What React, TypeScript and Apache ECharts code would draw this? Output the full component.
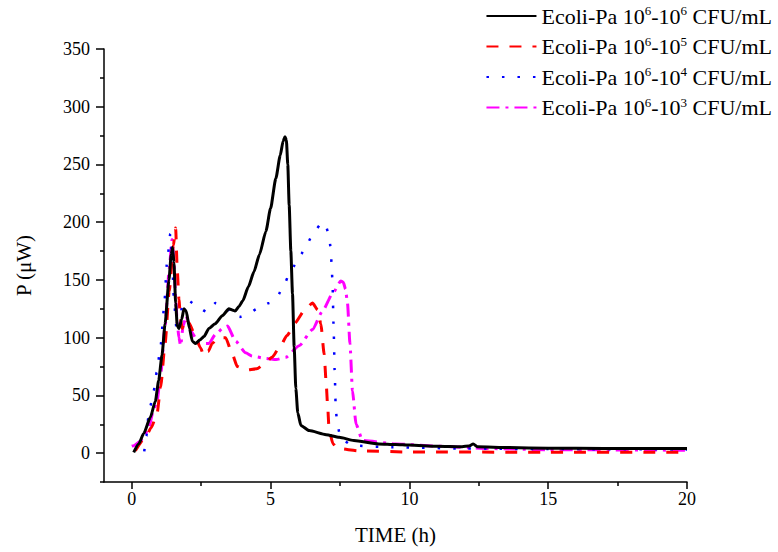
import React, { useEffect, useRef } from "react";
import * as echarts from "echarts";

const xMajorTicks = [0, 5, 10, 15, 20];
const xMinorTicks = [2.5, 7.5, 12.5, 17.5];
const yMajorTicks = [0, 50, 100, 150, 200, 250, 300, 350];
const yMinorTicks = [-25, 25, 75, 125, 175, 225, 275, 325];

const seriesNames = [
  "Ecoli-Pa 10^6-10^6 CFU/mL",
  "Ecoli-Pa 10^6-10^5 CFU/mL",
  "Ecoli-Pa 10^6-10^4 CFU/mL",
  "Ecoli-Pa 10^6-10^3 CFU/mL",
];
const legendExponents = [
  ["6", "6"],
  ["6", "5"],
  ["6", "4"],
  ["6", "3"],
];

// [time (h), P (µW)]
const curve106: number[][] = [
  [0.07, 0.7], [0.25, 8], [0.43, 17], [0.67, 31], [0.85, 45], [0.97, 63], [1.09, 85],
  [1.2, 112], [1.34, 150], [1.42, 172], [1.47, 178], [1.52, 165], [1.58, 130],
  [1.64, 110], [1.7, 108], [1.8, 116], [1.88, 125], [1.96, 123], [2.08, 108],
  [2.18, 97], [2.3, 95], [2.45, 98], [2.6, 101], [2.78, 108], [3.0, 112],
  [3.26, 119], [3.5, 125], [3.62, 124], [3.72, 123], [3.86, 127], [4.0, 132],
  [4.2, 144], [4.4, 157], [4.6, 172], [4.83, 192], [5.0, 212], [5.19, 238],
  [5.35, 258], [5.45, 270], [5.52, 274], [5.57, 271], [5.62, 250], [5.67, 215],
  [5.73, 175], [5.79, 138], [5.85, 92], [5.91, 56], [5.98, 35], [6.09, 24],
  [6.39, 19.5], [7.0, 16], [7.47, 13.7], [8.0, 11], [8.9, 8], [9.5, 7.5],
  [10, 7], [11, 6], [11.9, 5.6], [12.15, 6.2], [12.3, 8], [12.45, 5.5],
  [13.6, 4.8], [15, 4.3], [17, 4.1], [20, 4],
];

const curve105: number[][] = [
  [0.13, 2], [0.5, 14], [0.7, 22], [0.91, 34], [1.04, 57], [1.2, 95], [1.35, 140],
  [1.5, 180], [1.58, 195], [1.64, 158], [1.7, 133], [1.76, 115], [1.82, 108],
  [1.94, 117], [2.06, 113], [2.24, 104], [2.48, 91], [2.6, 84], [2.75, 88],
  [2.9, 95], [3.1, 100], [3.38, 100], [3.62, 86], [3.8, 75], [4.1, 72],
  [4.5, 73], [4.77, 77], [5.05, 83], [5.31, 91], [5.6, 102], [5.85, 112],
  [6.27, 125], [6.51, 130], [6.7, 124], [6.81, 112], [6.93, 86], [7.0, 62],
  [7.05, 43], [7.11, 19.5], [7.25, 8], [7.41, 4], [8.2, 2], [10, 1],
  [15, 0.8], [20, 0.8],
];

const curve104: number[][] = [
  [0.45, 1.5], [0.53, 15], [0.58, 29], [0.67, 41], [0.79, 54], [0.9, 70],
  [1.04, 93], [1.16, 125], [1.27, 165], [1.39, 190], [1.45, 170], [1.52, 132],
  [1.62, 106], [1.7, 105], [1.82, 129], [2.06, 132], [2.3, 128], [2.72, 122],
  [3.02, 130], [3.38, 127], [3.62, 119], [3.9, 118], [4.16, 120], [4.52, 125],
  [4.95, 130], [5.25, 136], [5.49, 146], [5.67, 155], [5.91, 164], [6.09, 172],
  [6.33, 182], [6.57, 192], [6.87, 200], [7.0, 196], [7.09, 190], [7.17, 177],
  [7.2, 162], [7.23, 148], [7.27, 110], [7.31, 70], [7.35, 37], [7.41, 24],
  [7.53, 12.5], [7.95, 6.5], [9.4, 5], [12, 4], [15, 3.5], [20, 3.2],
];

const curve103: number[][] = [
  [0.0, 6], [0.07, 6.5], [0.3, 10], [0.45, 15], [0.61, 22], [0.79, 38], [0.91, 45],
  [1.05, 70], [1.2, 110], [1.35, 160], [1.45, 185], [1.52, 165], [1.58, 135],
  [1.64, 112], [1.7, 100], [1.76, 93], [1.85, 110], [1.96, 119], [2.04, 113],
  [2.12, 106], [2.42, 95], [2.78, 95], [3.02, 103], [3.32, 109], [3.45, 110],
  [3.74, 97], [4.1, 87], [4.34, 84], [4.83, 82], [5.2, 81], [5.55, 83],
  [6.03, 93], [6.51, 107], [6.87, 123], [7.23, 138], [7.53, 149], [7.62, 148],
  [7.7, 142], [7.77, 130], [7.86, 95], [7.95, 54], [8.08, 25], [8.31, 11],
  [9.5, 8], [11, 6], [12.8, 4], [15, 3], [20, 2.5],
];

const FONT = "'Liberation Serif', 'Times New Roman', serif";

export default function App() {
  const ref = useRef<HTMLDivElement>(null);

  useEffect(() => {
    if (!ref.current) return;
    const chart = echarts.init(ref.current, undefined, { renderer: "svg" });

    const curves = [curve106, curve105, curve104, curve103];
    const styles = [
      { color: "#000000", type: "solid" as any, width: 3 },
      { color: "#ff0000", type: [12, 11] as any, width: 3 },
      { color: "#0000ff", type: [2.5, 13] as any, width: 2.5 },
      { color: "#ff00ff", type: [13, 6, 3, 6] as any, width: 3 },
    ];

    chart.setOption({
      animation: false,
      backgroundColor: "#ffffff",
      grid: { left: 104, right: 91, top: 49, bottom: 70, containLabel: false },
      legend: {
        orient: "vertical",
        right: 6,
        top: 4,
        padding: 0,
        itemWidth: 50,
        itemHeight: 14,
        itemGap: 7.5,
        align: "left",
        data: seriesNames,
        itemStyle: { opacity: 0 },
        formatter: (name: string) => {
          const i = seriesNames.indexOf(name);
          const [a, b] = legendExponents[i];
          return `{t|Ecoli-Pa 10}{s|${a}}{t|-10}{s|${b}}{t| CFU/mL}`;
        },
        textStyle: {
          fontFamily: FONT,
          color: "#000",
          rich: {
            t: { fontFamily: FONT, fontSize: 22, color: "#000", lineHeight: 24 },
            s: { fontFamily: FONT, fontSize: 13, color: "#000", lineHeight: 24, verticalAlign: "top" },
          },
        },
      },
      xAxis: [
        {
          type: "value",
          min: -1,
          max: 20,
          name: "TIME (h)",
          nameLocation: "middle",
          nameGap: 42,
          nameTextStyle: { fontFamily: FONT, fontSize: 21, color: "#000" },
          axisLine: { show: true, onZero: false, lineStyle: { color: "#000", width: 1.5 } },
          axisTick: {
            show: true,
            customValues: xMajorTicks,
            length: 7,
            inside: false,
            lineStyle: { color: "#000", width: 1.5 },
          },
          axisLabel: {
            show: true,
            customValues: xMajorTicks,
            margin: 8,
            fontFamily: FONT,
            fontSize: 18,
            color: "#000",
          },
          splitLine: { show: false },
        },
        {
          type: "value",
          min: -1,
          max: 20,
          position: "bottom",
          axisLine: { show: false, onZero: false },
          splitLine: { show: false },
          axisTick: {
            show: true,
            customValues: xMinorTicks,
            length: 4,
            lineStyle: { color: "#000", width: 1.5 },
          },
          axisLabel: { show: false },
        },
      ],
      yAxis: [
        {
          type: "value",
          min: -25,
          max: 350,
          name: "P (\u03bcW)",
          nameLocation: "middle",
          nameGap: 70,
          nameRotate: 90,
          nameTextStyle: { fontFamily: FONT, fontSize: 21, color: "#000" },
          axisLine: { show: true, onZero: false, lineStyle: { color: "#000", width: 1.5 } },
          axisTick: {
            show: true,
            customValues: yMajorTicks,
            length: 8,
            lineStyle: { color: "#000", width: 1.5 },
          },
          axisLabel: {
            show: true,
            customValues: yMajorTicks,
            margin: 14,
            fontFamily: FONT,
            fontSize: 18,
            color: "#000",
          },
          splitLine: { show: false },
        },
        {
          type: "value",
          min: -25,
          max: 350,
          position: "left",
          axisLine: { show: false, onZero: false },
          splitLine: { show: false },
          axisTick: {
            show: true,
            customValues: yMinorTicks,
            length: 4,
            lineStyle: { color: "#000", width: 1.5 },
          },
          axisLabel: { show: false },
        },
      ],
      series: curves.map((c, i) => ({
        name: seriesNames[i],
        type: "line",
        xAxisIndex: 0,
        yAxisIndex: 0,
        data: c,
        symbol: "none",
        showSymbol: false,
        smooth: 0.2,
        smoothMonotone: "x",
        z: 4 - i,
        lineStyle: { color: styles[i].color, type: styles[i].type, width: styles[i].width, cap: "butt" },
        itemStyle: { color: styles[i].color },
      })),
    });

    return () => chart.dispose();
  }, []);

  return (
    <div
      ref={ref}
      style={{ position: "fixed", left: 0, top: 0, width: 778, height: 552, background: "#fff" }}
    />
  );
}
